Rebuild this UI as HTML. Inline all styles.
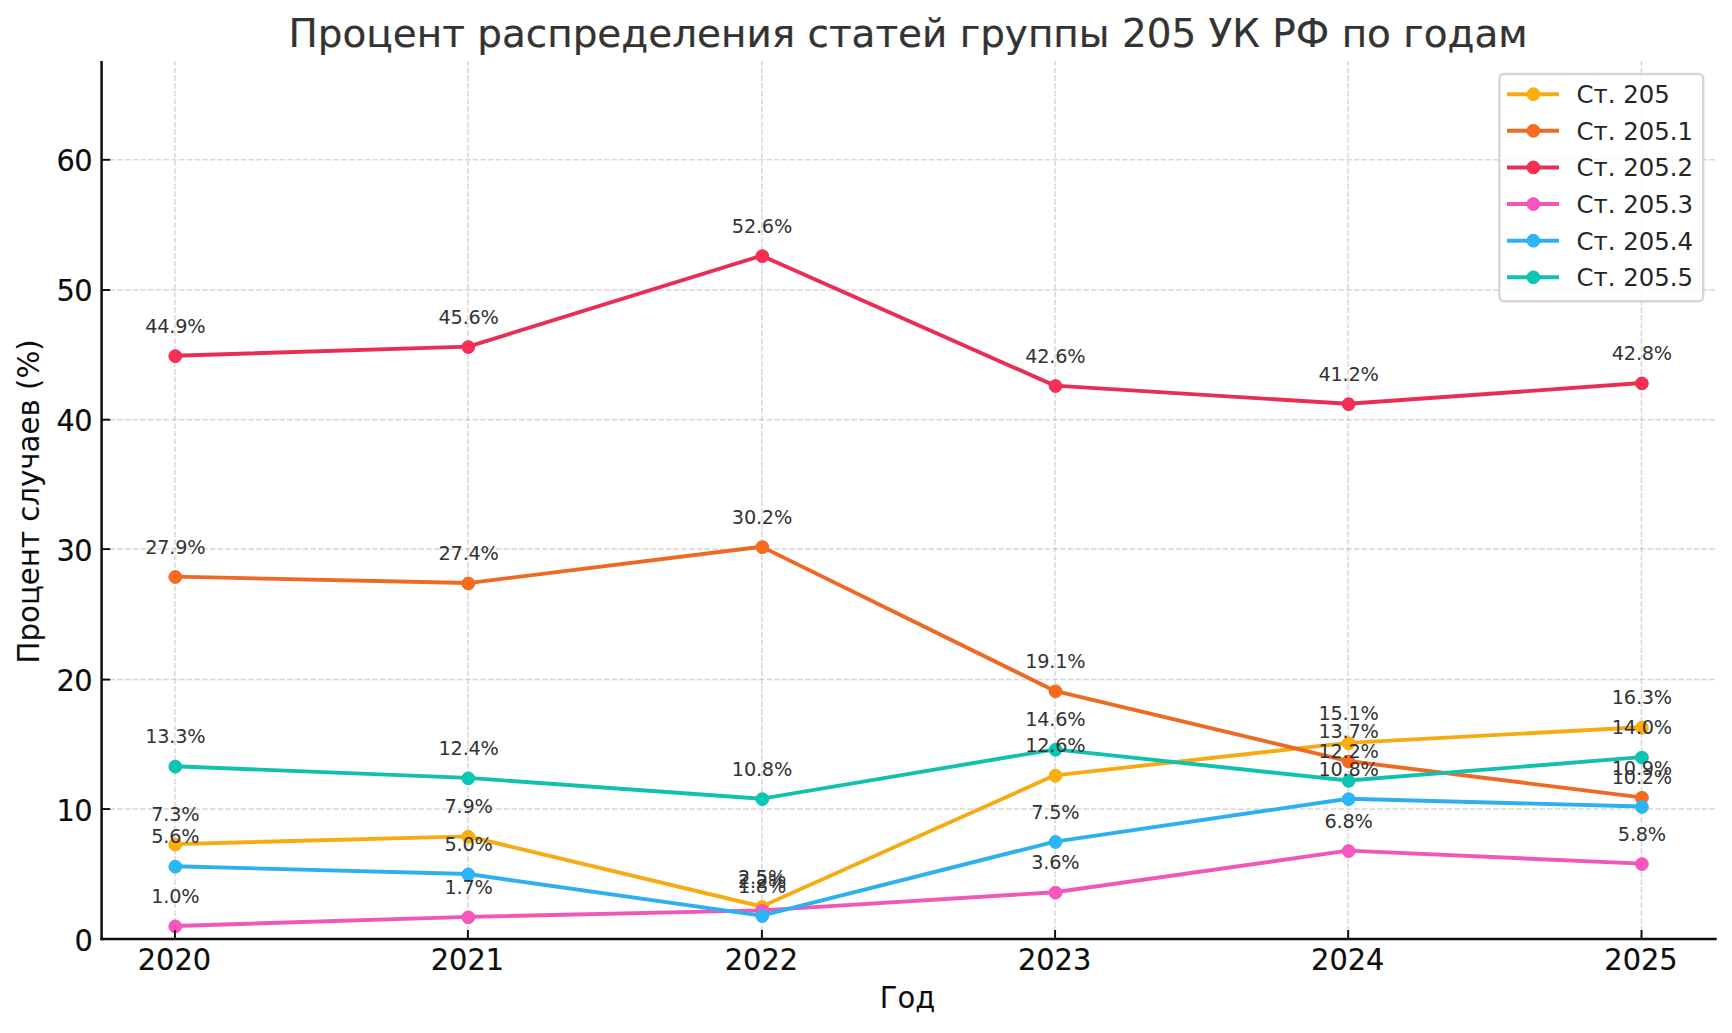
<!DOCTYPE html>
<html lang="ru"><head><meta charset="utf-8"><title>Процент распределения статей группы 205 УК РФ по годам</title>
<style>html,body{margin:0;padding:0;background:#fff;}svg{display:block;}text{font-family:"DejaVu Sans", "Liberation Sans", sans-serif;}</style>
</head><body>
<svg width="1732" height="1033" viewBox="0 0 1732 1033">
<rect width="1732" height="1033" fill="#ffffff"/>
<g stroke="#b0b0b0" stroke-opacity="0.5" stroke-width="1.46" stroke-dasharray="5.6 2.13" fill="none">
<line x1="174.90" y1="939.00" x2="174.90" y2="60.90"/>
<line x1="467.90" y1="939.00" x2="467.90" y2="60.90"/>
<line x1="761.90" y1="939.00" x2="761.90" y2="60.90"/>
<line x1="1055.10" y1="939.00" x2="1055.10" y2="60.90"/>
<line x1="1348.20" y1="939.00" x2="1348.20" y2="60.90"/>
<line x1="1641.50" y1="939.00" x2="1641.50" y2="60.90"/>
<line x1="101.60" y1="939.00" x2="1714.90" y2="939.00"/>
<line x1="101.60" y1="809.05" x2="1714.90" y2="809.05"/>
<line x1="101.60" y1="679.60" x2="1714.90" y2="679.60"/>
<line x1="101.60" y1="549.10" x2="1714.90" y2="549.10"/>
<line x1="101.60" y1="419.70" x2="1714.90" y2="419.70"/>
<line x1="101.60" y1="290.05" x2="1714.90" y2="290.05"/>
<line x1="101.60" y1="159.80" x2="1714.90" y2="159.80"/>
</g>
<g>
<polyline points="174.90,844.17 468.22,836.38 761.54,906.52 1054.86,775.33 1348.18,742.85 1641.50,727.26" fill="none" stroke="#F5AB14" stroke-width="3.90" stroke-linejoin="round" stroke-linecap="butt"/>
<circle cx="175.30" cy="844.57" r="6.40" fill="#FBAE0C" stroke="#F5AB14" stroke-width="1"/>
<circle cx="468.30" cy="836.78" r="6.40" fill="#FBAE0C" stroke="#F5AB14" stroke-width="1"/>
<circle cx="762.30" cy="906.92" r="6.40" fill="#FBAE0C" stroke="#F5AB14" stroke-width="1"/>
<circle cx="1055.50" cy="775.73" r="6.40" fill="#FBAE0C" stroke="#F5AB14" stroke-width="1"/>
<circle cx="1348.60" cy="743.25" r="6.40" fill="#FBAE0C" stroke="#F5AB14" stroke-width="1"/>
<circle cx="1641.90" cy="727.66" r="6.40" fill="#FBAE0C" stroke="#F5AB14" stroke-width="1"/>
</g>
<g>
<polyline points="174.90,576.58 468.22,583.07 761.54,546.70 1054.86,690.89 1348.18,761.04 1641.50,797.41" fill="none" stroke="#EC6A23" stroke-width="3.90" stroke-linejoin="round" stroke-linecap="butt"/>
<circle cx="175.30" cy="576.98" r="6.40" fill="#F96A1E" stroke="#EC6A23" stroke-width="1"/>
<circle cx="468.30" cy="583.47" r="6.40" fill="#F96A1E" stroke="#EC6A23" stroke-width="1"/>
<circle cx="762.30" cy="547.10" r="6.40" fill="#F96A1E" stroke="#EC6A23" stroke-width="1"/>
<circle cx="1055.50" cy="691.29" r="6.40" fill="#F96A1E" stroke="#EC6A23" stroke-width="1"/>
<circle cx="1348.60" cy="761.44" r="6.40" fill="#F96A1E" stroke="#EC6A23" stroke-width="1"/>
<circle cx="1641.90" cy="797.81" r="6.40" fill="#F96A1E" stroke="#EC6A23" stroke-width="1"/>
</g>
<g>
<polyline points="174.90,355.75 468.22,346.66 761.54,255.73 1054.86,385.63 1348.18,403.81 1641.50,383.03" fill="none" stroke="#E92E55" stroke-width="3.90" stroke-linejoin="round" stroke-linecap="butt"/>
<circle cx="175.30" cy="356.15" r="6.40" fill="#F82E53" stroke="#E92E55" stroke-width="1"/>
<circle cx="468.30" cy="347.06" r="6.40" fill="#F82E53" stroke="#E92E55" stroke-width="1"/>
<circle cx="762.30" cy="256.13" r="6.40" fill="#F82E53" stroke="#E92E55" stroke-width="1"/>
<circle cx="1055.50" cy="386.03" r="6.40" fill="#F82E53" stroke="#E92E55" stroke-width="1"/>
<circle cx="1348.60" cy="404.21" r="6.40" fill="#F82E53" stroke="#E92E55" stroke-width="1"/>
<circle cx="1641.90" cy="383.43" r="6.40" fill="#F82E53" stroke="#E92E55" stroke-width="1"/>
</g>
<g>
<polyline points="174.90,926.01 468.22,916.92 761.54,910.42 1054.86,892.24 1348.18,850.67 1641.50,863.66" fill="none" stroke="#EF57BB" stroke-width="3.90" stroke-linejoin="round" stroke-linecap="butt"/>
<circle cx="175.30" cy="926.41" r="6.40" fill="#FA55BE" stroke="#EF57BB" stroke-width="1"/>
<circle cx="468.30" cy="917.32" r="6.40" fill="#FA55BE" stroke="#EF57BB" stroke-width="1"/>
<circle cx="762.30" cy="910.82" r="6.40" fill="#FA55BE" stroke="#EF57BB" stroke-width="1"/>
<circle cx="1055.50" cy="892.64" r="6.40" fill="#FA55BE" stroke="#EF57BB" stroke-width="1"/>
<circle cx="1348.60" cy="851.07" r="6.40" fill="#FA55BE" stroke="#EF57BB" stroke-width="1"/>
<circle cx="1641.90" cy="864.06" r="6.40" fill="#FA55BE" stroke="#EF57BB" stroke-width="1"/>
</g>
<g>
<polyline points="174.90,866.26 468.22,874.05 761.54,915.62 1054.86,841.58 1348.18,798.71 1641.50,806.50" fill="none" stroke="#2EB0EF" stroke-width="3.90" stroke-linejoin="round" stroke-linecap="butt"/>
<circle cx="175.30" cy="866.66" r="6.40" fill="#2AB6F9" stroke="#2EB0EF" stroke-width="1"/>
<circle cx="468.30" cy="874.45" r="6.40" fill="#2AB6F9" stroke="#2EB0EF" stroke-width="1"/>
<circle cx="762.30" cy="916.02" r="6.40" fill="#2AB6F9" stroke="#2EB0EF" stroke-width="1"/>
<circle cx="1055.50" cy="841.98" r="6.40" fill="#2AB6F9" stroke="#2EB0EF" stroke-width="1"/>
<circle cx="1348.60" cy="799.11" r="6.40" fill="#2AB6F9" stroke="#2EB0EF" stroke-width="1"/>
<circle cx="1641.90" cy="806.90" r="6.40" fill="#2AB6F9" stroke="#2EB0EF" stroke-width="1"/>
</g>
<g>
<polyline points="174.90,766.23 468.22,777.92 761.54,798.71 1054.86,749.35 1348.18,780.52 1641.50,757.14" fill="none" stroke="#12C0AE" stroke-width="3.90" stroke-linejoin="round" stroke-linecap="butt"/>
<circle cx="175.30" cy="766.63" r="6.40" fill="#0AC7B5" stroke="#12C0AE" stroke-width="1"/>
<circle cx="468.30" cy="778.32" r="6.40" fill="#0AC7B5" stroke="#12C0AE" stroke-width="1"/>
<circle cx="762.30" cy="799.11" r="6.40" fill="#0AC7B5" stroke="#12C0AE" stroke-width="1"/>
<circle cx="1055.50" cy="749.75" r="6.40" fill="#0AC7B5" stroke="#12C0AE" stroke-width="1"/>
<circle cx="1348.60" cy="780.92" r="6.40" fill="#0AC7B5" stroke="#12C0AE" stroke-width="1"/>
<circle cx="1641.90" cy="757.54" r="6.40" fill="#0AC7B5" stroke="#12C0AE" stroke-width="1"/>
</g>
<g stroke="#0d0d0d" stroke-width="2.5" stroke-linecap="butt" fill="none">
<line x1="101.60" y1="61.00" x2="101.60" y2="940.25"/>
<line x1="100.35" y1="939.00" x2="1716.75" y2="939.00"/>
</g>
<g stroke="#0d0d0d" stroke-width="1.95" fill="none">
<line x1="174.90" y1="939.00" x2="174.90" y2="930.00"/>
<line x1="467.90" y1="939.00" x2="467.90" y2="930.00"/>
<line x1="761.90" y1="939.00" x2="761.90" y2="930.00"/>
<line x1="1055.10" y1="939.00" x2="1055.10" y2="930.00"/>
<line x1="1348.20" y1="939.00" x2="1348.20" y2="930.00"/>
<line x1="1641.50" y1="939.00" x2="1641.50" y2="930.00"/>
<line x1="101.60" y1="939.00" x2="110.20" y2="939.00"/>
<line x1="101.60" y1="809.05" x2="110.20" y2="809.05"/>
<line x1="101.60" y1="679.60" x2="110.20" y2="679.60"/>
<line x1="101.60" y1="549.10" x2="110.20" y2="549.10"/>
<line x1="101.60" y1="419.70" x2="110.20" y2="419.70"/>
<line x1="101.60" y1="290.05" x2="110.20" y2="290.05"/>
<line x1="101.60" y1="159.80" x2="110.20" y2="159.80"/>
</g>
<g fill="#0d0d0d" stroke="#0d0d0d" stroke-width="0.16" font-size="28.8">
<text transform="translate(174.40 970.05) scale(1 1.020)" text-anchor="middle">2020</text>
<text transform="translate(467.40 970.05) scale(1 1.020)" text-anchor="middle">2021</text>
<text transform="translate(761.40 970.05) scale(1 1.020)" text-anchor="middle">2022</text>
<text transform="translate(1054.60 970.05) scale(1 1.020)" text-anchor="middle">2023</text>
<text transform="translate(1347.70 970.05) scale(1 1.020)" text-anchor="middle">2024</text>
<text transform="translate(1641.00 970.05) scale(1 1.020)" text-anchor="middle">2025</text>
<text transform="translate(92.20 950.50) scale(1 1.020)" text-anchor="end" letter-spacing="-0.5">0</text>
<text transform="translate(92.20 820.60) scale(1 1.020)" text-anchor="end" letter-spacing="-0.5">10</text>
<text transform="translate(92.20 690.70) scale(1 1.020)" text-anchor="end" letter-spacing="-0.5">20</text>
<text transform="translate(92.20 560.80) scale(1 1.020)" text-anchor="end" letter-spacing="-0.5">30</text>
<text transform="translate(92.20 430.90) scale(1 1.020)" text-anchor="end" letter-spacing="-0.5">40</text>
<text transform="translate(92.20 301.00) scale(1 1.020)" text-anchor="end" letter-spacing="-0.5">50</text>
<text transform="translate(92.20 171.10) scale(1 1.020)" text-anchor="end" letter-spacing="-0.5">60</text>
</g>
<g fill="#333333" font-size="19.30" letter-spacing="-0.22" text-anchor="middle">
<text x="175.30" y="821.27">7.3%</text>
<text x="468.62" y="813.48">7.9%</text>
<text x="761.94" y="883.62">2.5%</text>
<text x="1055.26" y="752.43">12.6%</text>
<text x="1348.58" y="719.95">15.1%</text>
<text x="1641.90" y="704.36">16.3%</text>
<text x="175.30" y="553.68">27.9%</text>
<text x="468.62" y="560.17">27.4%</text>
<text x="761.94" y="523.80">30.2%</text>
<text x="1055.26" y="667.99">19.1%</text>
<text x="1348.58" y="738.14">13.7%</text>
<text x="1641.90" y="774.51">10.9%</text>
<text x="175.30" y="332.85">44.9%</text>
<text x="468.62" y="323.76">45.6%</text>
<text x="761.94" y="232.83">52.6%</text>
<text x="1055.26" y="362.73">42.6%</text>
<text x="1348.58" y="380.91">41.2%</text>
<text x="1641.90" y="360.13">42.8%</text>
<text x="175.30" y="903.11">1.0%</text>
<text x="468.62" y="894.02">1.7%</text>
<text x="761.94" y="887.52">2.2%</text>
<text x="1055.26" y="869.34">3.6%</text>
<text x="1348.58" y="827.77">6.8%</text>
<text x="1641.90" y="840.76">5.8%</text>
<text x="175.30" y="843.36">5.6%</text>
<text x="468.62" y="851.15">5.0%</text>
<text x="761.94" y="892.72">1.8%</text>
<text x="1055.26" y="818.68">7.5%</text>
<text x="1348.58" y="775.81">10.8%</text>
<text x="1641.90" y="783.60">10.2%</text>
<text x="175.30" y="743.33">13.3%</text>
<text x="468.62" y="755.02">12.4%</text>
<text x="761.94" y="775.81">10.8%</text>
<text x="1055.26" y="726.45">14.6%</text>
<text x="1348.58" y="757.62">12.2%</text>
<text x="1641.90" y="734.24">14.0%</text>
</g>
<text transform="translate(907.60 1008.30) scale(1 1.035)" text-anchor="middle" font-size="29.05" fill="#0d0d0d">Год</text>
<text transform="translate(38.60 501.45) rotate(-90)" text-anchor="middle" font-size="29.25" fill="#0d0d0d">Процент случаев (%)</text>
<text x="908.10" y="46.80" text-anchor="middle" font-size="38.93" fill="#333333" stroke="#333333" stroke-width="0.2">Процент распределения статей группы 205 УК РФ по годам</text>
<rect x="1499.40" y="74.00" width="203.80" height="227.30" rx="4.5" ry="4.5" fill="#ffffff" fill-opacity="0.8" stroke="#cccccc" stroke-opacity="0.8" stroke-width="2.4"/>
<line x1="1507.0" y1="94.20" x2="1559.0" y2="94.20" stroke="#F5AB14" stroke-width="3.90"/>
<circle cx="1533.4" cy="94.20" r="6.40" fill="#FBAE0C" stroke="#F5AB14" stroke-width="1"/>
<text transform="translate(1576.6 103.10) scale(1 1.025)" font-size="24.40" fill="#262626">Ст. 205</text>
<line x1="1507.0" y1="130.82" x2="1559.0" y2="130.82" stroke="#EC6A23" stroke-width="3.90"/>
<circle cx="1533.4" cy="130.82" r="6.40" fill="#F96A1E" stroke="#EC6A23" stroke-width="1"/>
<text transform="translate(1576.6 139.72) scale(1 1.025)" font-size="24.40" fill="#262626">Ст. 205.1</text>
<line x1="1507.0" y1="167.44" x2="1559.0" y2="167.44" stroke="#E92E55" stroke-width="3.90"/>
<circle cx="1533.4" cy="167.44" r="6.40" fill="#F82E53" stroke="#E92E55" stroke-width="1"/>
<text transform="translate(1576.6 176.34) scale(1 1.025)" font-size="24.40" fill="#262626">Ст. 205.2</text>
<line x1="1507.0" y1="204.06" x2="1559.0" y2="204.06" stroke="#EF57BB" stroke-width="3.90"/>
<circle cx="1533.4" cy="204.06" r="6.40" fill="#FA55BE" stroke="#EF57BB" stroke-width="1"/>
<text transform="translate(1576.6 212.96) scale(1 1.025)" font-size="24.40" fill="#262626">Ст. 205.3</text>
<line x1="1507.0" y1="240.68" x2="1559.0" y2="240.68" stroke="#2EB0EF" stroke-width="3.90"/>
<circle cx="1533.4" cy="240.68" r="6.40" fill="#2AB6F9" stroke="#2EB0EF" stroke-width="1"/>
<text transform="translate(1576.6 249.58) scale(1 1.025)" font-size="24.40" fill="#262626">Ст. 205.4</text>
<line x1="1507.0" y1="277.30" x2="1559.0" y2="277.30" stroke="#12C0AE" stroke-width="3.90"/>
<circle cx="1533.4" cy="277.30" r="6.40" fill="#0AC7B5" stroke="#12C0AE" stroke-width="1"/>
<text transform="translate(1576.6 286.20) scale(1 1.025)" font-size="24.40" fill="#262626">Ст. 205.5</text>
</svg>
</body></html>
